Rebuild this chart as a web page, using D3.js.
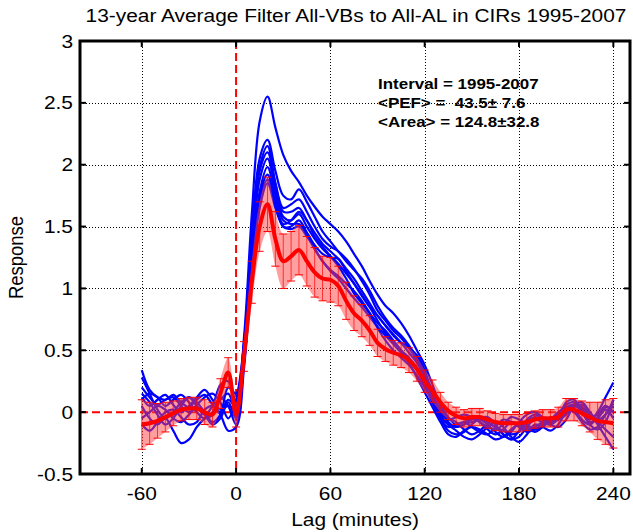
<!DOCTYPE html>
<html>
<head>
<meta charset="utf-8">
<script src="https://cdn.jsdelivr.net/npm/d3@7"></script>
<style>
	body { margin: 0; background: #fff; }
	svg { font-family: "Liberation Sans", Arial, sans-serif; }
</style>
</head>
<body>
<div id="chart"></div>
<script>
//Lags in minutes, one sample every 5 minutes
let lags = d3.range(-60, 241, 5);

//Tick values
let xTicks = [-60, 0, 60, 120, 180, 240];
let yTicks = [-0.5, 0, 0.5, 1, 1.5, 2, 2.5, 3];
let yTickLabels = ["-0.5", "0", "0.5", "1", "1.5", "2", "2.5", "3"];

//Average response (red) and its spread
let meanResponse = [
	-0.10, -0.09, -0.07, -0.04, -0.01, 0.02, 0.03, 0.03, 0.00, -0.02, 0.15, 0.32, -0.02,
	0.45, 1.05, 1.50, 1.68, 1.40, 1.22, 1.26, 1.31, 1.22, 1.13, 1.08, 1.07,
	1.02, 0.90, 0.80, 0.74, 0.66, 0.56, 0.51, 0.48, 0.46, 0.42, 0.35, 0.25,
	0.17, 0.08, 0.01, -0.03, -0.05, -0.04, -0.04, -0.06, -0.08, -0.09, -0.09, -0.09,
	-0.08, -0.06, -0.05, -0.05, -0.04, 0.02, 0.02, -0.01, -0.04, -0.07, -0.08, -0.09
];
let stdResponse = [
	0.20, 0.17, 0.14, 0.12, 0.10, 0.09, 0.09, 0.09, 0.10, 0.10, 0.12, 0.12, 0.10,
	0.12, 0.17, 0.20, 0.22, 0.22, 0.22, 0.20, 0.20, 0.20, 0.20, 0.18, 0.18,
	0.16, 0.15, 0.14, 0.13, 0.12, 0.11, 0.10, 0.10, 0.10, 0.10, 0.10, 0.09,
	0.09, 0.08, 0.07, 0.07, 0.07, 0.07, 0.07, 0.07, 0.07, 0.07, 0.07, 0.07,
	0.07, 0.07, 0.07, 0.07, 0.08, 0.09, 0.09, 0.10, 0.12, 0.15, 0.18, 0.20
];

//Individual responses (blue)
let curve1 = [
	0.34, 0.18, 0.12, 0.10, 0.14, 0.08, 0.04, 0.10, 0.14, 0.06, 0.00, 0.10, 0.05,
	0.60, 1.60, 2.35, 2.55, 2.30, 2.08, 1.95, 1.86, 1.75, 1.66, 1.58, 1.52,
	1.46, 1.38, 1.28, 1.18, 1.06, 0.95, 0.86, 0.80, 0.72, 0.62, 0.50, 0.38,
	0.22, 0.05, -0.08, -0.12, -0.10, -0.06, -0.05, -0.08, -0.12, -0.15, -0.18, -0.16,
	-0.08, -0.04, -0.06, -0.10, -0.05, 0.08, 0.10, 0.02, -0.06, 0.00, 0.12, 0.24
];
let curve2 = [
	0.20, 0.12, 0.06, 0.10, 0.12, 0.05, 0.00, 0.06, 0.12, 0.15, 0.08, -0.05, 0.10,
	0.55, 1.45, 2.05, 2.20, 1.95, 1.75, 1.72, 1.80, 1.70, 1.58, 1.46, 1.38,
	1.30, 1.22, 1.15, 1.08, 0.98, 0.86, 0.76, 0.68, 0.62, 0.54, 0.44, 0.32,
	0.15, 0.02, -0.05, -0.08, -0.14, -0.18, -0.15, -0.10, -0.12, -0.18, -0.22, -0.20,
	-0.12, -0.06, -0.08, -0.10, -0.02, 0.06, 0.08, 0.00, -0.10, -0.14, -0.08, 0.10
];
let curve3 = [
	0.05, -0.05, -0.10, -0.05, -0.15, -0.25, -0.22, -0.12, -0.05, 0.00, 0.12, 0.05, -0.10,
	0.45, 1.35, 1.98, 2.15, 1.85, 1.62, 1.62, 1.65, 1.55, 1.45, 1.36, 1.30,
	1.24, 1.16, 1.08, 0.98, 0.88, 0.78, 0.70, 0.62, 0.56, 0.52, 0.46, 0.34,
	0.12, -0.05, -0.15, -0.18, -0.16, -0.10, -0.05, -0.04, -0.10, -0.18, -0.22, -0.15,
	-0.06, -0.02, -0.05, -0.10, -0.12, -0.06, 0.05, 0.08, 0.00, -0.10, -0.20, -0.30
];
let curve4 = [
	0.15, 0.08, -0.02, -0.10, -0.05, 0.05, 0.12, 0.08, 0.00, -0.08, -0.02, 0.20, 0.15,
	0.55, 1.30, 1.88, 2.05, 1.80, 1.58, 1.55, 1.60, 1.50, 1.40, 1.32, 1.26,
	1.20, 1.12, 1.04, 0.95, 0.85, 0.74, 0.64, 0.57, 0.50, 0.44, 0.36, 0.25,
	0.10, -0.02, -0.10, -0.15, -0.20, -0.22, -0.18, -0.12, -0.08, -0.12, -0.20, -0.24,
	-0.18, -0.10, -0.12, -0.15, -0.10, 0.00, 0.05, 0.02, -0.04, -0.02, 0.05, 0.00
];
let curve5 = [
	-0.05, 0.00, 0.05, 0.02, -0.05, -0.08, -0.02, 0.04, -0.02, -0.10, -0.05, 0.08, -0.05,
	0.40, 1.20, 1.75, 1.92, 1.70, 1.50, 1.50, 1.55, 1.45, 1.32, 1.22, 1.15,
	1.10, 1.04, 0.98, 0.90, 0.80, 0.68, 0.58, 0.50, 0.44, 0.38, 0.30, 0.20,
	0.08, -0.06, -0.12, -0.10, -0.08, -0.12, -0.16, -0.18, -0.12, -0.06, -0.08, -0.12,
	-0.16, -0.14, -0.10, -0.08, -0.04, 0.02, 0.00, -0.08, -0.14, -0.12, -0.02, 0.05
];
let curve6 = [
	0.10, 0.15, 0.12, 0.05, 0.10, 0.14, 0.08, 0.00, -0.05, -0.02, 0.10, 0.15, 0.00,
	0.42, 1.20, 1.72, 1.88, 1.68, 1.52, 1.55, 1.62, 1.55, 1.42, 1.34, 1.26,
	1.18, 1.08, 0.96, 0.88, 0.80, 0.72, 0.66, 0.58, 0.50, 0.40, 0.28, 0.16,
	0.04, -0.08, -0.18, -0.20, -0.15, -0.12, -0.14, -0.18, -0.22, -0.20, -0.14, -0.10,
	-0.12, -0.16, -0.12, -0.06, -0.02, 0.04, 0.06, 0.00, -0.08, -0.05, 0.02, -0.05
];
let curve7 = [
	-0.10, -0.15, -0.08, 0.00, 0.02, -0.04, -0.10, -0.08, 0.02, 0.05, -0.02, -0.15, -0.12,
	0.35, 1.15, 1.78, 1.98, 1.75, 1.55, 1.52, 1.52, 1.45, 1.35, 1.28, 1.25,
	1.24, 1.14, 1.04, 0.94, 0.85, 0.78, 0.70, 0.63, 0.56, 0.48, 0.40, 0.28,
	0.14, 0.00, -0.06, -0.04, -0.02, -0.04, -0.08, -0.12, -0.14, -0.10, -0.04, -0.06,
	-0.10, -0.14, -0.12, -0.06, 0.00, 0.04, 0.02, -0.06, -0.10, -0.04, 0.04, 0.00
];
let curve8 = [
	0.12, 0.05, 0.10, 0.14, 0.06, 0.00, 0.05, 0.12, 0.18, 0.10, 0.02, 0.05, 0.02,
	0.40, 1.10, 1.65, 1.85, 1.65, 1.50, 1.48, 1.50, 1.42, 1.32, 1.22, 1.14,
	1.08, 1.00, 0.92, 0.85, 0.77, 0.69, 0.62, 0.55, 0.48, 0.42, 0.34, 0.22,
	0.08, -0.04, -0.10, -0.12, -0.10, -0.08, -0.06, -0.10, -0.16, -0.20, -0.16, -0.08,
	-0.02, 0.00, -0.04, -0.08, -0.06, 0.02, 0.06, 0.04, -0.02, -0.08, -0.14, -0.20
];
let curve9 = [
	0.28, 0.15, 0.02, -0.05, 0.00, 0.08, 0.12, 0.05, -0.02, 0.05, 0.22, 0.25, 0.08,
	0.50, 1.40, 1.95, 2.10, 1.85, 1.65, 1.68, 1.72, 1.62, 1.50, 1.40, 1.34,
	1.30, 1.24, 1.16, 1.06, 0.95, 0.82, 0.74, 0.66, 0.60, 0.52, 0.42, 0.30,
	0.18, 0.06, -0.04, -0.10, -0.08, -0.05, -0.08, -0.14, -0.18, -0.14, -0.08, -0.10,
	-0.14, -0.12, -0.08, -0.04, -0.06, -0.02, 0.04, 0.06, 0.00, -0.06, -0.02, 0.10
];
let curves = [curve1, curve2, curve3, curve4, curve5, curve6, curve7, curve8, curve9];

//Text
let titleText = "13-year Average Filter All-VBs to All-AL in CIRs 1995-2007";
let noteLines = ["Interval = 1995-2007", "<PEF> =  43.5\u00b1 7.6", "<Area> = 124.8\u00b132.8"];

//Dimensions
let width = 633;
let height = 532;
let plotLeft = 80, plotRight = 630, plotTop = 41, plotBottom = 474;
let stretch = 1.13; //text in the picture is wider than plain Arial

//SVG container
let svg = d3.select("#chart").append("svg")
	.attr("width", width)
	.attr("height", height);

//Scales
let x = d3.scaleLinear().domain([-99.3, 250.6]).range([plotLeft, plotRight]);
let y = d3.scaleLinear().domain([-0.5, 3]).range([plotBottom, plotTop]);
let px = v => Math.round(v) + 0.5;

//Utility function to add a horizontally stretched label
let addText = function(tx, ty, text, size, anchor){
	return svg.append("text")
		.attr("transform", "translate(" + tx + "," + ty + ") scale(" + stretch + ",1)")
		.attr("text-anchor", anchor)
		.style("font-size", size + "px")
		.text(text);
}

//Grid
let grid = svg.append("g");
grid.selectAll(".vgrid")
		.data(xTicks.filter(d => d != 0))
	.enter()
		.append("line")
			.attr("x1", d => px(x(d))).attr("x2", d => px(x(d)))
			.attr("y1", plotTop).attr("y2", plotBottom)
			.attr("stroke", "black")
			.attr("stroke-dasharray", "1,2");
grid.selectAll(".hgrid")
		.data(yTicks.filter(d => d != 0 && d != -0.5 && d != 3))
	.enter()
		.append("line")
			.attr("x1", plotLeft).attr("x2", plotRight)
			.attr("y1", d => px(y(d))).attr("y2", d => px(y(d)))
			.attr("stroke", "black")
			.attr("stroke-dasharray", "1,2");

//Zero lines
svg.append("line")
	.attr("x1", plotLeft).attr("x2", plotRight)
	.attr("y1", y(0)).attr("y2", y(0))
	.attr("stroke", "red")
	.attr("stroke-width", 2)
	.attr("stroke-dasharray", "8,4");
svg.append("line")
	.attr("x1", x(0)).attr("x2", x(0))
	.attr("y1", plotTop).attr("y2", plotBottom)
	.attr("stroke", "red")
	.attr("stroke-width", 2)
	.attr("stroke-dasharray", "8,4");

let line = d3.line()
	.x((d, i) => x(lags[i]))
	.y(d => y(d))
	.curve(d3.curveCatmullRom);

//Blue curves
svg.selectAll(".curve")
		.data(curves)
	.enter()
		.append("path")
			.attr("d", line)
			.attr("fill", "none")
			.attr("stroke", "blue")
			.attr("stroke-width", 2.2);

//Error band
let band = d3.area()
	.x((d, i) => x(lags[i]))
	.y0((d, i) => y(d - stdResponse[i]))
	.y1((d, i) => y(d + stdResponse[i]))
	.curve(d3.curveCatmullRom);
svg.append("path")
	.attr("d", band(meanResponse))
	.attr("fill", "#ff4040")
	.attr("fill-opacity", 0.5);

//Error bars
let bars = svg.append("g").attr("stroke", "red");
meanResponse.forEach(function(m, i){
	let cx = x(lags[i]);
	let lo = y(m - stdResponse[i]);
	let hi = y(m + stdResponse[i]);
	bars.append("line").attr("x1", cx).attr("x2", cx).attr("y1", lo).attr("y2", hi).attr("stroke-opacity", 0.7);
	bars.append("line").attr("x1", cx - 4).attr("x2", cx + 4).attr("y1", lo).attr("y2", lo);
	bars.append("line").attr("x1", cx - 4).attr("x2", cx + 4).attr("y1", hi).attr("y2", hi);
});

//Mean line
svg.append("path")
	.attr("d", line(meanResponse))
	.attr("fill", "none")
	.attr("stroke", "red")
	.attr("stroke-width", 4);

//Axes box
svg.append("rect")
	.attr("x", plotLeft).attr("y", plotTop)
	.attr("width", plotRight - plotLeft).attr("height", plotBottom - plotTop)
	.attr("fill", "none")
	.attr("stroke", "black")
	.attr("stroke-width", 3);

//Ticks
let ticks = svg.append("g").attr("stroke", "black").attr("stroke-width", 2);
xTicks.forEach(function(t){
	ticks.append("line").attr("x1", x(t)).attr("x2", x(t)).attr("y1", plotBottom).attr("y2", plotBottom - 6);
	ticks.append("line").attr("x1", x(t)).attr("x2", x(t)).attr("y1", plotTop).attr("y2", plotTop + 6);
});
yTicks.forEach(function(t){
	ticks.append("line").attr("x1", plotLeft).attr("x2", plotLeft + 6).attr("y1", y(t)).attr("y2", y(t));
	ticks.append("line").attr("x1", plotRight).attr("x2", plotRight - 6).attr("y1", y(t)).attr("y2", y(t));
});

//Tick labels
xTicks.forEach(function(t){
	addText(x(t), plotBottom + 26, t, 18.5, "middle");
});
yTicks.forEach(function(t, i){
	addText(plotLeft - 7, y(t) + 6.6, yTickLabels[i], 18.5, "end");
});

//Axis titles
addText(355, 526, "Lag (minutes)", 18.5, "middle");
svg.append("text")
	.attr("transform", "translate(23," + ((plotTop + plotBottom) / 2) + ") scale(" + stretch + ",1) rotate(-90)")
	.attr("text-anchor", "middle")
	.style("font-size", "18.5px")
	.text("Response");

//Title
addText(356, 22, titleText, 18.5, "middle");

//Annotation
noteLines.forEach(function(d, i){
	addText(378, 89 + i * 19, d, 15, "start")
		.attr("xml:space", "preserve")
		.style("white-space", "pre")
		.style("font-weight", "bold");
});
</script>
</body>
</html>
